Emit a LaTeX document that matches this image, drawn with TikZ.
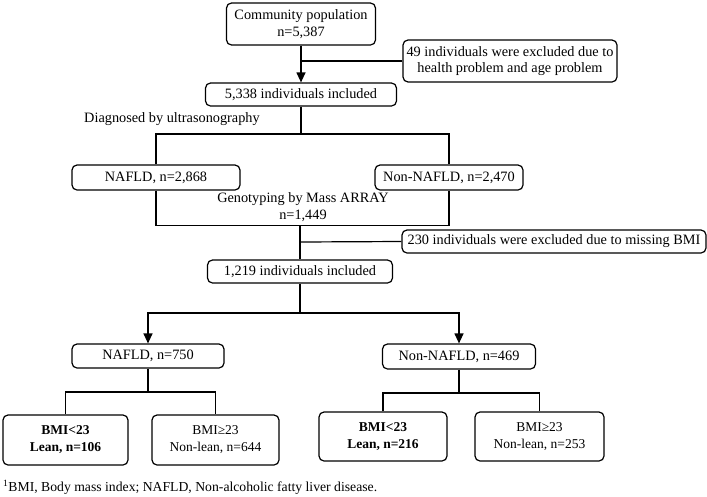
\documentclass[tikz,border=0pt]{standalone}
\usepackage{fontspec}
\setmainfont{Liberation Serif}
\usetikzlibrary{arrows.meta}
\begin{document}
\begin{tikzpicture}[x=1pt,y=-1pt,
  box/.style={draw,line width=1.2pt,rounded corners=5pt,inner sep=0pt,align=center,font=\fontsize{14.3}{16.5}\selectfont},
  small/.style={box,font=\fontsize{13.5}{17}\selectfont},
  lbl/.style={inner sep=0pt,align=center,font=\fontsize{14.3}{17}\selectfont},
  ln/.style={line width=1.2pt},
  arr/.style={line width=1.2pt,-{Triangle[length=10pt,width=9pt]}}]
\useasboundingbox (0,0) rectangle (707,496);
% nodes
\node[box,minimum width=149pt,minimum height=42pt] (pop) at (301,24) {Community population\\n=5,387};
\node[box,minimum width=214pt,minimum height=42pt] (ex1) at (510,61) {49 individuals were excluded due to\\health problem and age problem};
\node[box,minimum width=191pt,minimum height=23pt] (inc1) at (301,94.5) {5,338 individuals included};
\node[lbl] (diag) at (172,119) {Diagnosed by ultrasonography};
\node[box,minimum width=168pt,minimum height=25pt] (naf1) at (156,177.5) {NAFLD, n=2,868};
\node[box,minimum width=148pt,minimum height=25pt] (non1) at (449,177.5) {Non-NAFLD, n=2,470};
\node[lbl] (geno) at (303,207.5) {Genotyping by Mass ARRAY\\n=1,449};
\node[box,minimum width=304pt,minimum height=23pt] (ex2) at (554,241.5) {230 individuals were excluded due to missing BMI};
\node[box,minimum width=185pt,minimum height=23pt] (inc2) at (300,271.5) {1,219 individuals included};
\node[box,minimum width=152pt,minimum height=24pt] (naf2) at (148,356) {NAFLD, n=750};
\node[box,minimum width=153pt,minimum height=25pt] (non2) at (459,356.5) {Non-NAFLD, n=469};
\node[small,minimum width=125pt,minimum height=50pt] (lean1) at (65.5,440) {\textbf{BMI<23}\\\textbf{Lean, n=106}};
\node[small,minimum width=127pt,minimum height=50pt] (nl1) at (215.5,440) {BMI≥23\\Non-lean, n=644};
\node[small,minimum width=128pt,minimum height=49pt] (lean2) at (383,436.5) {\textbf{BMI<23}\\\textbf{Lean, n=216}};
\node[small,minimum width=129pt,minimum height=49pt] (nl2) at (539.5,436.5) {BMI≥23\\Non-lean, n=253};
\node[anchor=west,inner sep=0pt,font=\fontsize{13.7}{16}\selectfont] (foot) at (3,487) {\textsuperscript{1}BMI, Body mass index; NAFLD, Non-alcoholic fatty liver disease.};
% junction coordinates
\coordinate (j1) at (301,61);
\coordinate (j2) at (301,134);
\coordinate (j3) at (300,242);
\coordinate (j4) at (300,313);
\coordinate (j5) at (148,392);
\coordinate (j6) at (459,393);
% connectors
\draw[arr] (pop.south) -- (inc1.north);
\draw[ln] (j1) -- (ex1.west);
\draw[ln] (inc1.south) -- (j2);
\draw[ln] (naf1.north) |- (j2) -| (non1.north);
\draw[ln] (naf1.south) -- ++(0,35) -| (non1.south);
\draw[ln] (j3 |- naf1.south) ++(0,35) -- (inc2.north);
\draw[ln] (j3) -- (ex2.west);
\draw[ln] (inc2.south) -- (j4);
\draw[arr] (j4) -| (naf2.north);
\draw[arr] (j4) -| (non2.north);
\draw[ln] (naf2.south) -- (j5);
\draw[ln] (lean1.north) |- (j5) -| (nl1.north);
\draw[ln] (non2.south) -- (j6);
\draw[ln] (lean2.north) |- (j6) -| (nl2.north);
\end{tikzpicture}
\end{document}
